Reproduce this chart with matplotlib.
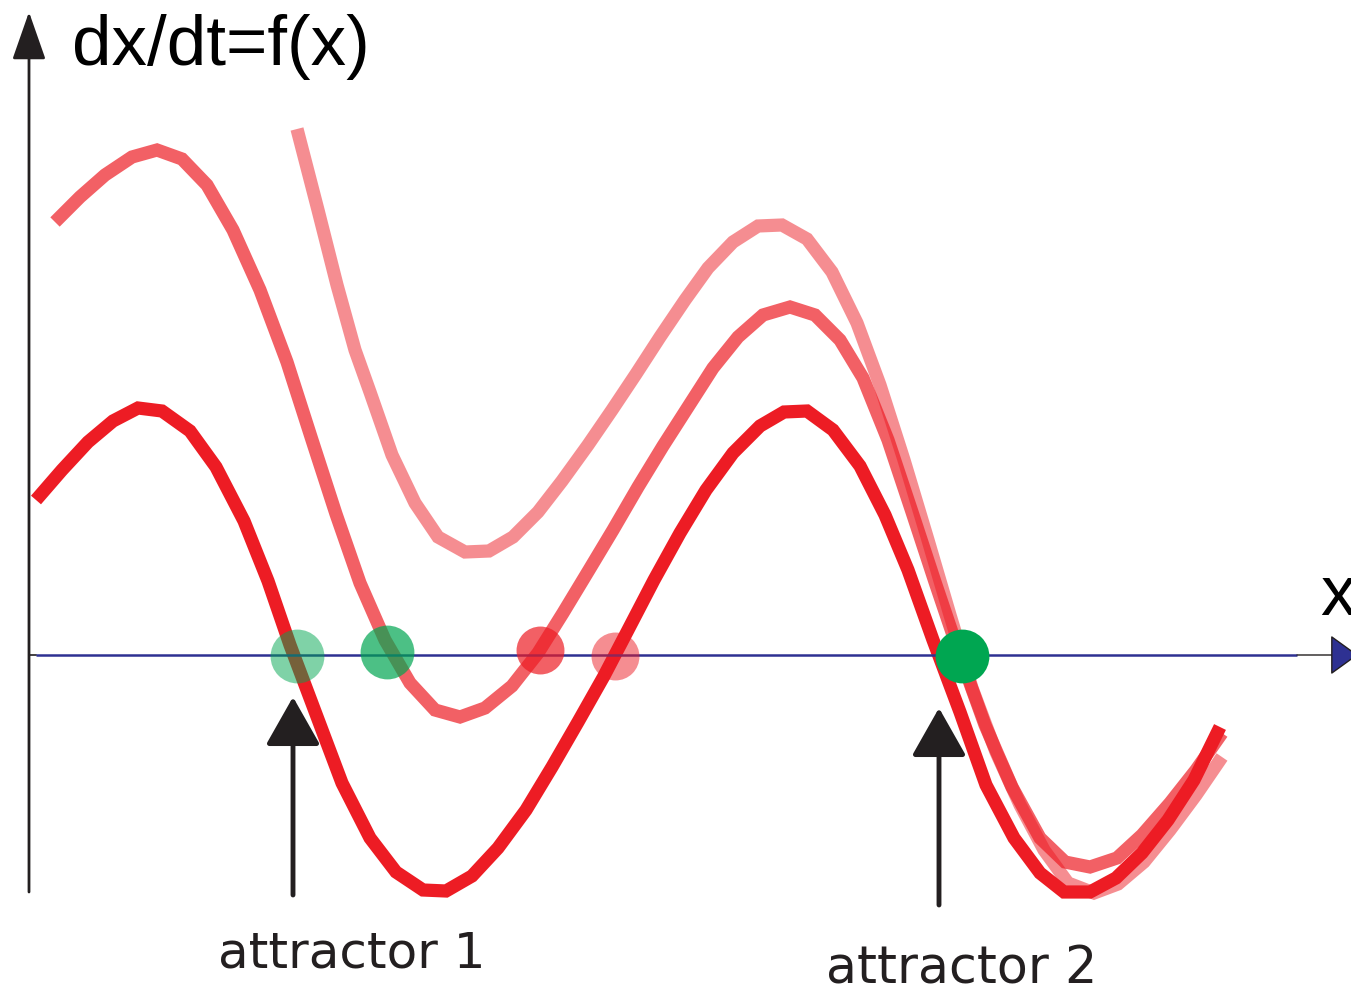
import matplotlib
matplotlib.use("Agg")
import matplotlib.pyplot as plt
from matplotlib.patches import FancyArrowPatch

RED, GREEN, NAVY, INK = "#ED1C24", "#00A651", "#2E3192", "#231F20"

# curves: x position and f(x) height above the x axis
xa = [36, 62, 88, 113, 138, 162, 190, 216, 244, 268, 290, 316, 342, 370, 396, 423,
      446, 472, 498, 526, 552, 578, 604, 628, 654, 680, 706, 733, 760, 784, 807, 833,
      860, 885, 908, 933, 960, 986, 1014, 1040, 1064, 1090, 1116, 1142, 1168, 1194, 1220]
fa = [155, 185, 213, 234, 247, 244, 224, 188, 134, 74, 10, -59, -128, -183, -217, -235,
      -236, -221, -193, -155, -112, -67, -21, 25, 75, 122, 165, 202, 229, 243, 244, 225,
      189, 140, 85, 15, -57, -130, -183, -218, -237, -237, -223, -198, -165, -125, -72]

xb = [55, 80, 105, 132, 157, 182, 207, 233, 260, 287, 312, 336, 360, 385, 410, 435,
      460, 485, 512, 538, 563, 589, 613, 638, 663, 688, 713, 738, 763, 790, 815, 840,
      863, 888, 912, 935, 958, 985, 1012, 1040, 1065, 1090, 1117, 1142, 1170, 1196, 1222]
fb = [433, 458, 480, 498, 505, 496, 470, 425, 365, 293, 215, 141, 72, 15, -28, -55,
      -62, -53, -31, 2, 42, 85, 125, 168, 209, 248, 287, 318, 340, 348, 340, 315,
      277, 215, 143, 73, 5, -70, -132, -183, -207, -212, -203, -180, -148, -115, -78]

xc = [297, 318, 337, 355, 370, 392, 415, 438, 465, 489, 513, 538, 562, 588, 612, 636,
      660, 685, 708, 733, 758, 782, 807, 832, 857, 880, 904, 928, 950, 972, 996, 1020,
      1044, 1068, 1094, 1118, 1144, 1170, 1196, 1222]
fc = [526, 445, 370, 305, 263, 200, 152, 118, 103, 104, 118, 143, 174, 210, 245, 281,
      318, 355, 387, 413, 429, 430, 416, 383, 332, 270, 195, 115, 40, -33, -97, -150,
      -195, -228, -238, -229, -207, -175, -140, -102]

# fixed points on the x axis
dot_x = [297, 387, 540, 615, 962]
dot_f = [-1, 3, 5, -1, -1]
dot_color = [GREEN, GREEN, RED, RED, GREEN]
dot_alpha = [0.5, 0.7, 0.7, 0.5, 1.0]
dot_size = [1500, 1500, 1190, 1190, 1500]

attractor_x = [293, 939]
attractor_labels = ["attractor 1", "attractor 2"]

fig = plt.figure(figsize=(13.51, 9.91), dpi=100)
ax = fig.add_axes([0, 0, 1, 1])
ax.set_xlim(0, 1351)
ax.set_ylim(-336, 655)
ax.axis("off")

for x, f, a in ((xc, fc, 0.5), (xb, fb, 0.7), (xa, fa, 1.0)):
    ax.plot(x, f, color=RED, alpha=a, lw=9.5, solid_capstyle="butt",
            solid_joinstyle="miter", zorder=2)


def arrow(p0, p1, hl, hw, lw, face, edge, z=3):
    ax.add_patch(FancyArrowPatch(p0, p1, arrowstyle=f"-|>,head_length={hl},head_width={hw}",
                                 mutation_scale=1, lw=lw, fc=face, ec=edge,
                                 shrinkA=0, shrinkB=0, zorder=z))


# axes
arrow((29, -237), (29, 643), 30, 10.5, 2, INK, INK)
ax.plot([29, 36], [0, 0], color=INK, lw=1.2, zorder=3)
ax.plot([36, 1297], [0, 0], color=NAVY, lw=1.8, zorder=3, solid_capstyle="butt")
arrow((1297, 0), (1358, 0), 18, 13, 1, NAVY, INK)

for x, f, c, a, s in zip(dot_x, dot_f, dot_color, dot_alpha, dot_size):
    ax.scatter([x], [f], s=s, color=c, alpha=a, linewidths=0, zorder=4)

# attractor arrows and labels
for x, f0, f1 in zip(attractor_x, [-240, -250], [-42, -53]):
    arrow((x, f0), (x, f1), 30, 17, 3.5, INK, INK, z=5)

ax.text(218, -313, attractor_labels[0], fontsize=36, family="DejaVu Sans",
        color=INK, va="baseline", ha="left")
ax.text(826, -328, attractor_labels[1], fontsize=36.5, family="DejaVu Sans",
        color=INK, va="baseline", ha="left")

ax.text(72, 590, "dx/dt=f(x)", fontsize=51, family="Liberation Sans",
        color="black", va="baseline", ha="left")
ax.text(1320, 40, "x", fontsize=51, family="Liberation Sans",
        color="black", va="baseline", ha="left")

fig.savefig("out.png", dpi=100)
